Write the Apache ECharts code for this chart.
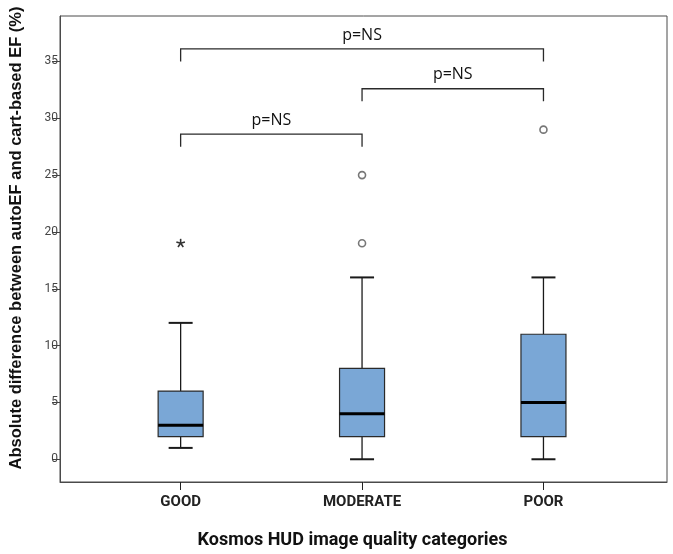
<!DOCTYPE html>
<html>
<head>
<meta charset="utf-8">
<title>Kosmos HUD image quality</title>
<script src="https://cdn.jsdelivr.net/npm/echarts@6/dist/echarts.min.js"></script>
<style>
  html, body { margin: 0; padding: 0; background: #fff; }
  #chart { width: 673px; height: 554px; }
</style>
</head>
<body>
<div id="chart"></div>
<script>
// categories on the x axis (positions 1, 2, 3)
var categories = ['GOOD', 'MODERATE', 'POOR'];
// five-number summaries per category
var whiskerLow  = [1, 0, 0];
var q1          = [2, 2, 2];
var median      = [3, 4, 5];
var q3          = [6, 8, 11];
var whiskerHigh = [12, 16, 16];
// outliers (circles) and extremes (star): [category position, value]
var outliers = [[2, 19], [2, 25], [3, 29]];
var extremes = [[1, 19]];
// significance brackets: [from, to, bar level, leg end]
var brackets = [[1, 3, 36.1, 35], [2, 3, 32.6, 31.5], [1, 2, 28.6, 27.5]];
var bracketLabel = 'p=NS';
var yTicks = [0, 5, 10, 15, 20, 25, 30, 35];

var boxData = categories.map(function (c, i) {
  return [i + 1, whiskerLow[i], q1[i], median[i], q3[i], whiskerHigh[i]];
});

var narrow = 'Roboto, "Liberation Sans", sans-serif';

var chart = echarts.init(document.getElementById('chart'));

var option = {
  animation: false,
  grid: {
    left: 59, right: 6, top: 16, bottom: 72,
    show: true, borderColor: '#4a4a4a', borderWidth: 1
  },
  xAxis: {
    type: 'value',
    min: 0.335, max: 3.681,
    name: 'Kosmos HUD image quality categories',
    nameLocation: 'middle',
    nameGap: 49,
    nameTextStyle: {
      fontFamily: narrow, fontWeight: 'bold', fontSize: 18,
      color: '#111', padding: [0, 22, 0, 0]
    },
    axisLine: { show: true, onZero: false, lineStyle: { color: '#4a4a4a', width: 1 } },
    axisTick: { show: true, length: 8, customValues: [1, 2, 3], lineStyle: { color: '#222' } },
    axisLabel: {
      customValues: [1, 2, 3],
      margin: 13,
      fontFamily: narrow, fontWeight: 'bold', fontSize: 15, color: '#222',
      formatter: function (v) { return categories[Math.round(v) - 1] || ''; }
    },
    splitLine: { show: false }
  },
  yAxis: {
    type: 'value',
    min: -2, max: 39,
    name: 'Absolute difference between autoEF and cart-based EF (%)',
    nameLocation: 'middle',
    nameRotate: 90,
    nameGap: 35,
    nameTextStyle: {
      fontFamily: 'Liberation Sans', fontWeight: 'bold', fontSize: 16.5,
      color: '#111', padding: [0, 0, 0, 22]
    },
    axisLine: { show: true, onZero: false, lineStyle: { color: '#4a4a4a', width: 1 } },
    axisTick: { show: true, length: 8, customValues: yTicks, lineStyle: { color: '#444' } },
    axisLabel: {
      customValues: yTicks, margin: 2,
      fontFamily: narrow, fontSize: 12, color: '#444'
    },
    splitLine: { show: false }
  },
  series: [
    {
      type: 'custom',
      name: 'box',
      data: boxData,
      renderItem: function (params, api) {
        var x = api.value(0);
        var pLow = api.coord([x, api.value(1)]);
        var pQ1 = api.coord([x, api.value(2)]);
        var pMed = api.coord([x, api.value(3)]);
        var pQ3 = api.coord([x, api.value(4)]);
        var pHigh = api.coord([x, api.value(5)]);
        var cx = pMed[0];
        var half = 22.5, cap = 12;
        var ink = { stroke: '#1a1a1a', lineWidth: 1.3 };
        return {
          type: 'group',
          children: [
            { type: 'line', shape: { x1: cx, y1: pHigh[1], x2: cx, y2: pQ3[1] }, style: ink },
            { type: 'line', shape: { x1: cx, y1: pQ1[1], x2: cx, y2: pLow[1] }, style: ink },
            { type: 'line', shape: { x1: cx - cap, y1: pHigh[1], x2: cx + cap, y2: pHigh[1] }, style: { stroke: '#1a1a1a', lineWidth: 2 } },
            { type: 'line', shape: { x1: cx - cap, y1: pLow[1], x2: cx + cap, y2: pLow[1] }, style: { stroke: '#1a1a1a', lineWidth: 2 } },
            { type: 'rect', shape: { x: cx - half, y: pQ3[1], width: half * 2, height: pQ1[1] - pQ3[1] },
              style: { fill: '#7aa7d6', stroke: '#2a2a2a', lineWidth: 1.2 } },
            { type: 'line', shape: { x1: cx - half, y1: pMed[1], x2: cx + half, y2: pMed[1] },
              style: { stroke: '#000', lineWidth: 3 } }
          ]
        };
      },
      z: 2
    },
    {
      type: 'scatter',
      name: 'outliers',
      data: outliers,
      symbol: 'circle',
      symbolSize: 7,
      itemStyle: { color: '#fff', borderColor: '#555', borderWidth: 1.6 },
      z: 3
    },
    {
      type: 'custom',
      name: 'extremes',
      data: extremes,
      renderItem: function (params, api) {
        var p = api.coord([api.value(0), api.value(1)]);
        var r = 4.5;
        var arms = [];
        for (var k = 0; k < 5; k++) {
          var a = -Math.PI / 2 + k * 2 * Math.PI / 5;
          arms.push({ type: 'line',
            shape: { x1: p[0], y1: p[1], x2: p[0] + r * Math.cos(a), y2: p[1] + r * Math.sin(a) },
            style: { stroke: '#333', lineWidth: 1.6 } });
        }
        return { type: 'group', children: arms };
      },
      z: 3
    },
    {
      type: 'custom',
      name: 'brackets',
      data: brackets,
      renderItem: function (params, api) {
        var a = api.coord([api.value(0), api.value(2)]);
        var b = api.coord([api.value(1), api.value(2)]);
        var aEnd = api.coord([api.value(0), api.value(3)]);
        var bEnd = api.coord([api.value(1), api.value(3)]);
        return {
          type: 'group',
          children: [
            { type: 'polyline',
              shape: { points: [[a[0], aEnd[1]], a, b, [b[0], bEnd[1]]] },
              style: { stroke: '#2a2a2a', lineWidth: 1.3, fill: null } },
            { type: 'text',
              style: { text: bracketLabel, x: (a[0] + b[0]) / 2, y: a[1] - 6,
                align: 'center', verticalAlign: 'bottom',
                font: '16px "Open Sans", sans-serif', fill: '#111' } }
          ]
        };
      },
      z: 3
    }
  ]
};

chart.setOption(option);
</script>
</body>
</html>
